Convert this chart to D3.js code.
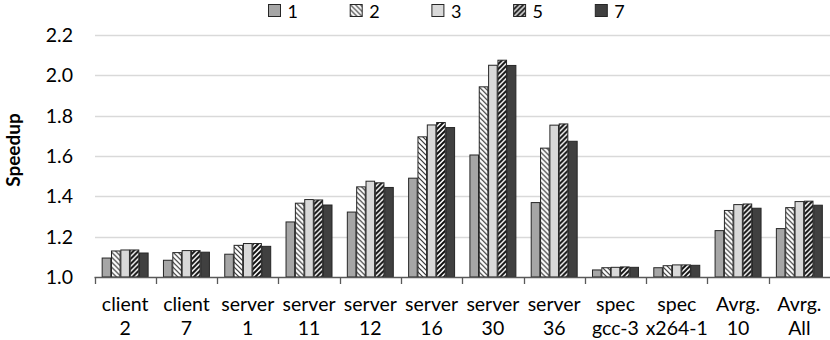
<!DOCTYPE html>
<meta charset="utf-8">
<script src="https://d3js.org/d3.v7.min.js"></script>
<style>
  body { margin: 0; background: #fff; }
  text { font-family: Lato, "Open Sans", sans-serif; fill: #000; }
</style>
<body>
<svg id="chart" width="830" height="340"></svg>
<script>
// categories (two label lines each)
var categories = ["client 2", "client 7", "server 1", "server 11", "server 12", "server 16",
                  "server 30", "server 36", "spec gcc-3", "spec x264-1", "Avrg. 10", "Avrg. All"];
var labelTop = ["client", "client", "server", "server", "server", "server",
                "server", "server", "spec", "spec", "Avrg.", "Avrg."];
var labelBottom = ["2", "7", "1", "11", "12", "16", "30", "36", "gcc-3", "x264-1", "10", "All"];

var seriesNames = ["1", "2", "3", "5", "7"];

// speedup values per series
var s1 = [1.094, 1.083, 1.113, 1.273, 1.322, 1.490, 1.605, 1.369, 1.035, 1.046, 1.230, 1.240];
var s2 = [1.129, 1.121, 1.157, 1.366, 1.447, 1.695, 1.943, 1.639, 1.046, 1.056, 1.330, 1.344];
var s3 = [1.134, 1.131, 1.166, 1.384, 1.475, 1.754, 2.050, 1.753, 1.048, 1.060, 1.359, 1.374];
var s5 = [1.134, 1.131, 1.166, 1.382, 1.467, 1.766, 2.075, 1.759, 1.050, 1.060, 1.362, 1.376];
var s7 = [1.119, 1.123, 1.152, 1.357, 1.444, 1.741, 2.049, 1.673, 1.048, 1.058, 1.341, 1.356];
var series = [s1, s2, s3, s5, s7];

var yTicks = [1.0, 1.2, 1.4, 1.6, 1.8, 2.0, 2.2];

var svg = d3.select("#chart");

// patterns for the hatched series
var defs = svg.append("defs");
var p2 = defs.append("pattern").attr("id", "hatch2")
    .attr("patternUnits", "userSpaceOnUse").attr("width", 5).attr("height", 5);
p2.append("rect").attr("width", 5).attr("height", 5).attr("fill", "#fff");
p2.append("path").attr("d", "M0,0L5,5M-1,4L1,6M4,-1L6,1")
    .attr("stroke", "#333").attr("stroke-width", 1.2);
var p5 = defs.append("pattern").attr("id", "hatch5")
    .attr("patternUnits", "userSpaceOnUse").attr("width", 5).attr("height", 5);
p5.append("rect").attr("width", 5).attr("height", 5).attr("fill", "#fff");
p5.append("path").attr("d", "M0,5L5,0M-1,1L1,-1M4,6L6,4")
    .attr("stroke", "#111").attr("stroke-width", 2);

var fills = ["#a6a6a6", "url(#hatch2)", "#d9d9d9", "url(#hatch5)", "#404040"];

var x = d3.scaleBand().domain(categories).range([94.5, 830]).paddingInner(0).paddingOuter(0);
var x1 = d3.scaleBand().domain(seriesNames).range([0, x.bandwidth()]).paddingInner(0.08).paddingOuter(0.82);
var y = d3.scaleLinear().domain([1.0, 2.2]).range([277, 35]);

// gridlines
svg.append("g").selectAll("line").data(yTicks.slice(1)).enter().append("line")
    .attr("x1", 95).attr("x2", 830)
    .attr("y1", function(d) { return Math.round(y(d)) + 0.5; })
    .attr("y2", function(d) { return Math.round(y(d)) + 0.5; })
    .attr("stroke", "#d9d9d9").attr("stroke-width", 1.5);

// y tick labels
svg.append("g").selectAll("text").data(yTicks).enter().append("text")
    .attr("x", 73).attr("y", function(d) { return y(d); })
    .attr("dy", "0.36em").attr("text-anchor", "end")
    .style("font-size", "19.5px")
    .text(function(d) { return d.toFixed(1); });

// y axis title
svg.append("text")
    .attr("transform", "translate(19.5,150) rotate(-90)")
    .attr("text-anchor", "middle")
    .style("font-size", "19px").style("font-weight", "bold")
    .text("Speedup");

// bars
var groups = svg.append("g").selectAll("g").data(categories).enter().append("g")
    .attr("transform", function(d) { return "translate(" + x(d) + ",0)"; });

groups.selectAll("rect")
    .data(function(d, i) { return series.map(function(s, k) { return { k: k, v: s[i] }; }); })
    .enter().append("rect")
    .attr("x", function(d) { return x1(seriesNames[d.k]); })
    .attr("width", x1.bandwidth())
    .attr("y", function(d) { return y(d.v); })
    .attr("height", function(d) { return y(1.0) - y(d.v); })
    .attr("fill", function(d) { return fills[d.k]; })
    .attr("stroke", "#262626").attr("stroke-width", 1);

// x axis line and ticks
var xAxis = svg.append("g");
xAxis.append("line").attr("x1", 94.5).attr("x2", 830).attr("y1", 277.5).attr("y2", 277.5)
    .attr("stroke", "#595959").attr("stroke-width", 1.3);
xAxis.selectAll(".tick").data(categories).enter().append("line")
    .attr("x1", function(d) { return Math.round(x(d)) + 0.5; })
    .attr("x2", function(d) { return Math.round(x(d)) + 0.5; })
    .attr("y1", 277).attr("y2", 284)
    .attr("stroke", "#595959").attr("stroke-width", 1.3);

// x labels
var lab = svg.append("g").selectAll("text").data(categories).enter().append("text")
    .attr("text-anchor", "middle")
    .style("font-size", "19.5px");
lab.append("tspan")
    .attr("x", function(d) { return x(d) + x.bandwidth() / 2; })
    .attr("y", 311)
    .text(function(d, i) { return labelTop[i]; });
lab.append("tspan")
    .attr("x", function(d) { return x(d) + x.bandwidth() / 2; })
    .attr("y", 335)
    .text(function(d, i) { return labelBottom[i]; });

// legend
var legend = svg.append("g").selectAll("g").data(seriesNames).enter().append("g")
    .attr("transform", function(d, i) { return "translate(" + (268.5 + i * 81.7) + ",4.5)"; });
legend.append("rect").attr("width", 12).attr("height", 12)
    .attr("fill", function(d, i) { return fills[i]; })
    .attr("stroke", "#262626").attr("stroke-width", 1);
legend.append("text").attr("x", 19).attr("y", 13.5)
    .style("font-size", "18px")
    .text(function(d) { return d; });
</script>
</body>
